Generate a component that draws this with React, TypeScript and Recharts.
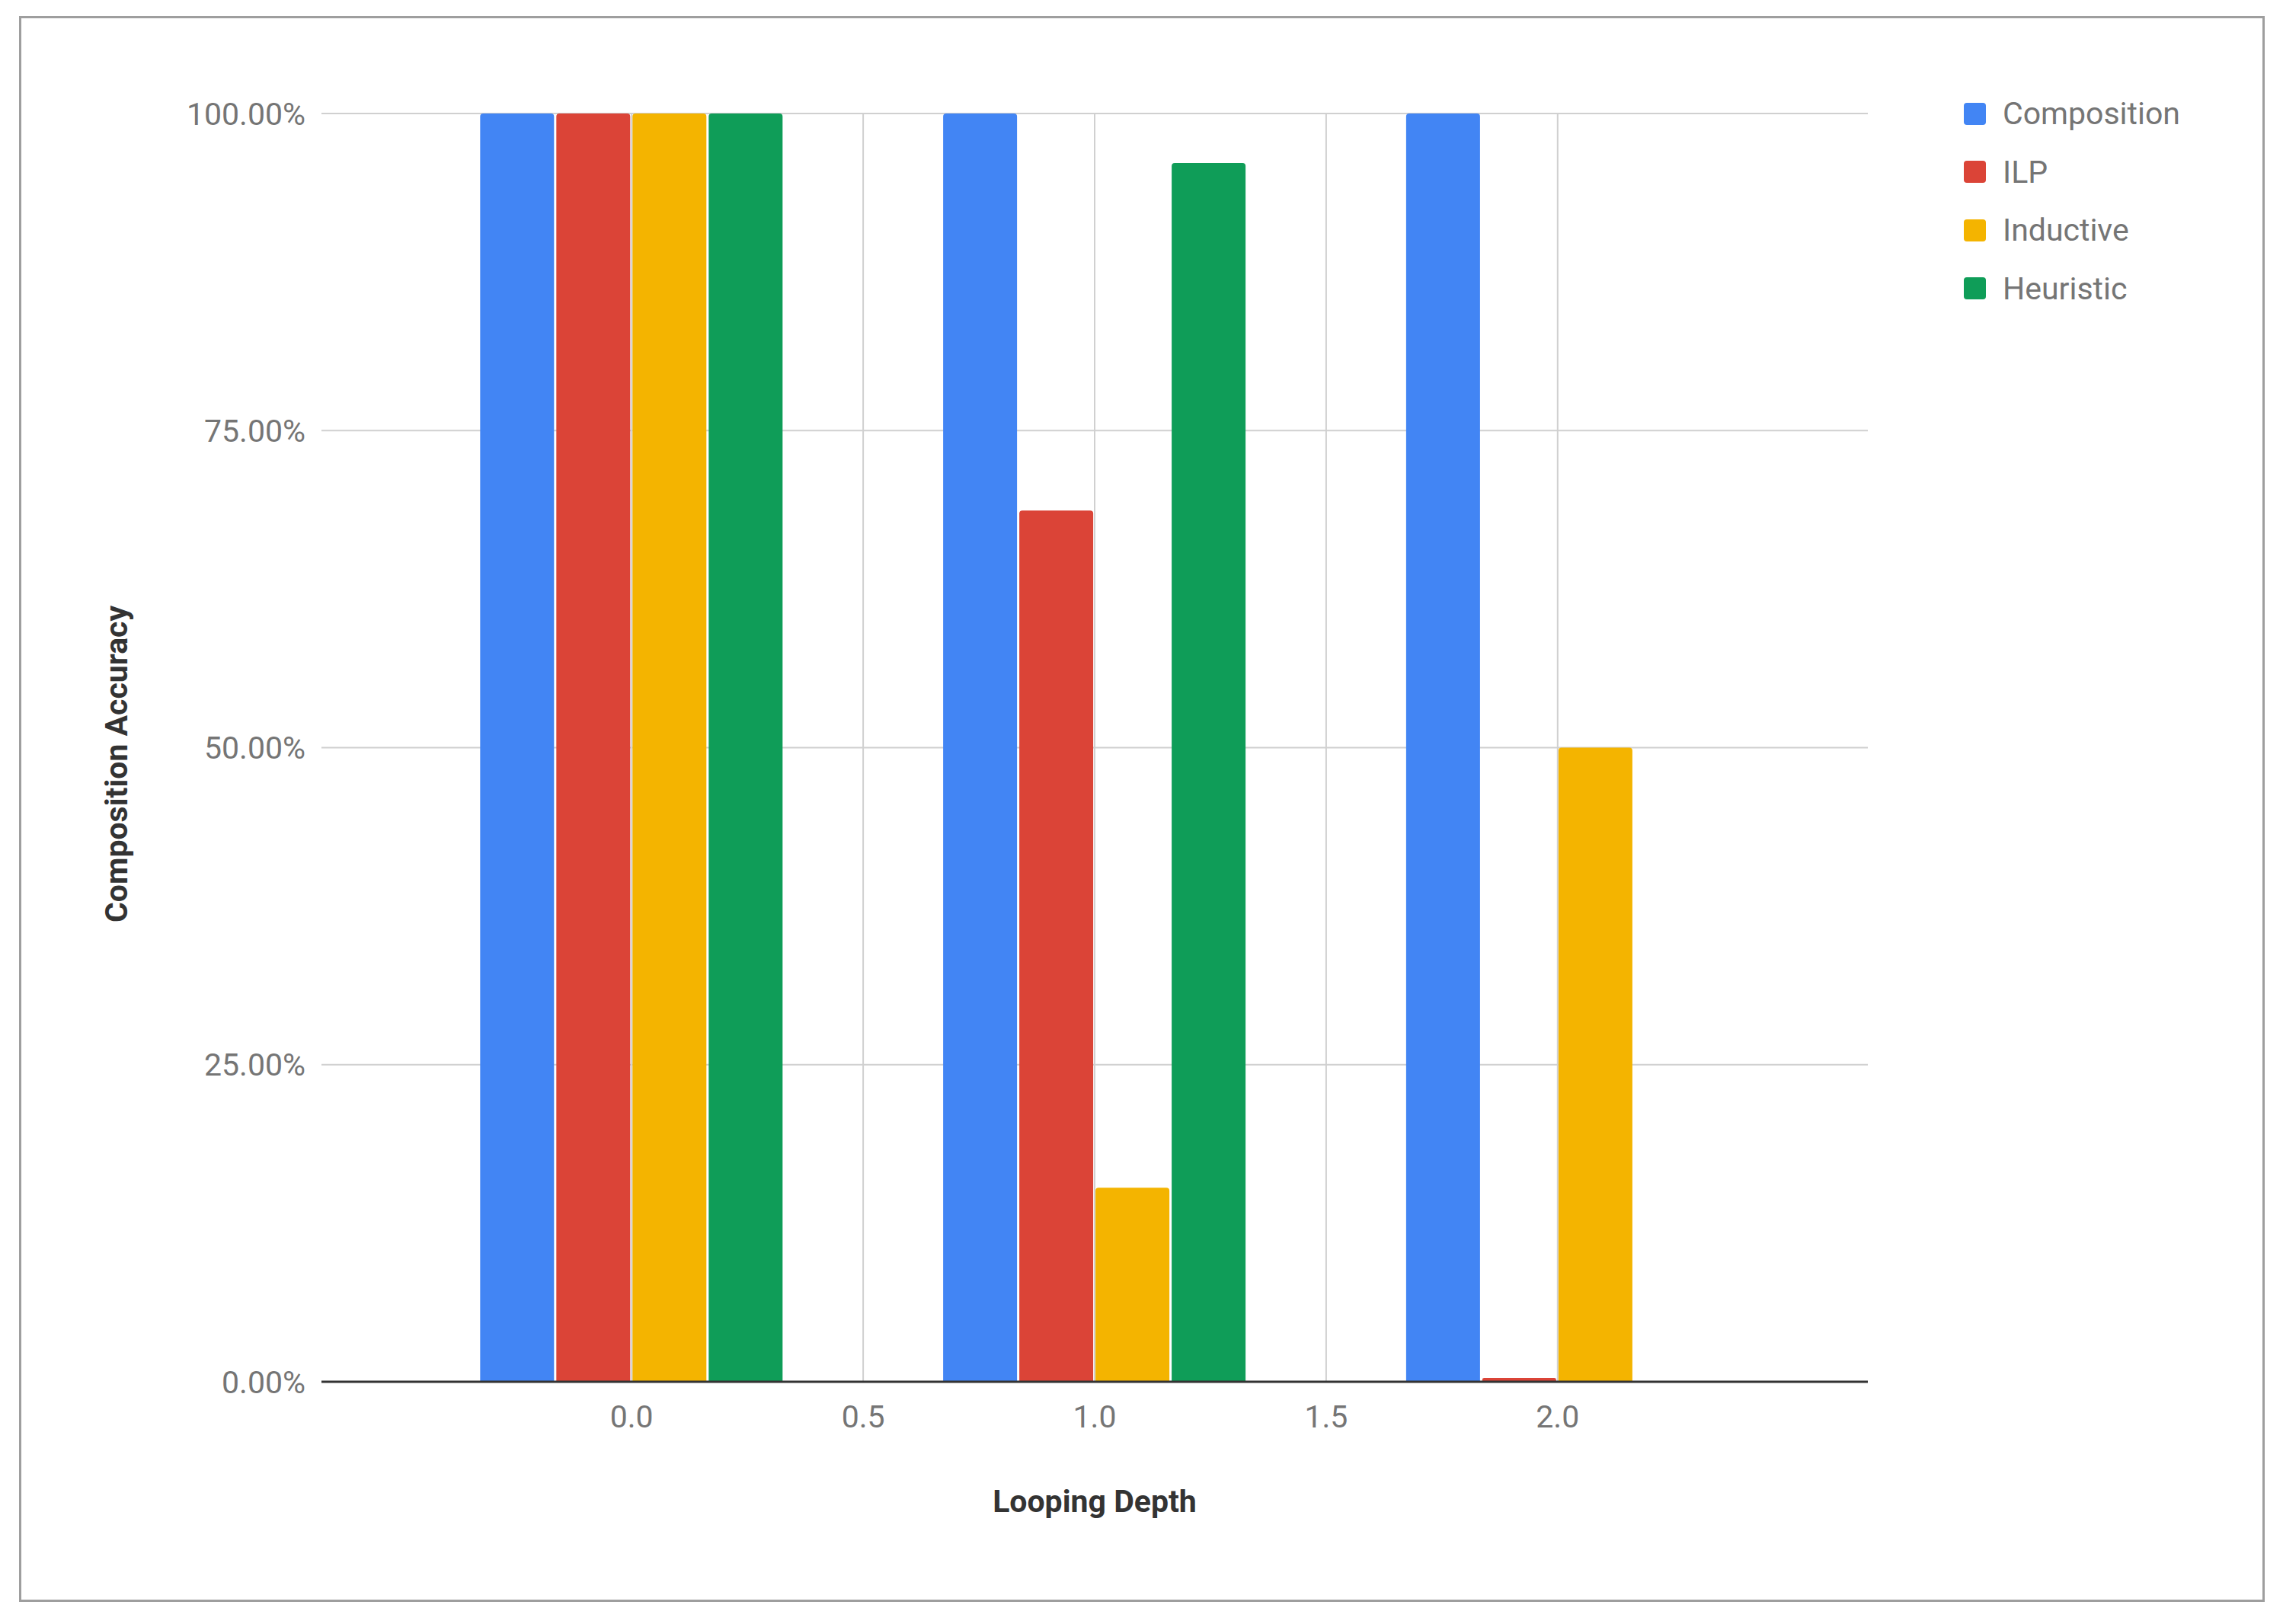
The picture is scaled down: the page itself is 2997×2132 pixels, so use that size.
import React from 'react';
import {
  BarChart,
  Bar,
  XAxis,
  YAxis,
  CartesianGrid,
  Label,
} from 'recharts';

// looping depth on the x axis (numeric axis)
const depths = [0, 1, 2];
const xTicks = [0, 0.5, 1, 1.5, 2];
const xDomain = [-0.67, 2.67];
const yTicks = [0, 25, 50, 75, 100];

// composition accuracy in percent, one value per depth
const composition = [100, 100, 100];
const ilp = [100, 68.7, 0.3];
const inductive = [100, 15.3, 50];
const heuristic = [100, 96.1, 0];

const seriesNames = ['Composition', 'ILP', 'Inductive', 'Heuristic'];
const seriesColors = ['#4285F4', '#DB4437', '#F4B400', '#0F9D58'];

const chartData = depths.map((depth, i) => ({
  depth,
  Composition: composition[i],
  ILP: ilp[i],
  Inductive: inductive[i],
  Heuristic: heuristic[i],
}));

const FONT = 'Roboto, "Noto Sans", sans-serif';

const LegendList = () => (
  <div style={{ position: 'absolute', left: 2578, top: 111, fontFamily: FONT }}>
    {seriesNames.map((name, i) => (
      <div key={name} style={{ display: 'flex', alignItems: 'center', height: 76.5 }}>
        <div
          style={{
            width: 29,
            height: 29,
            borderRadius: 4,
            backgroundColor: seriesColors[i],
            marginRight: 22,
          }}
        />
        <span style={{ fontSize: 41, color: '#757575' }}>{name}</span>
      </div>
    ))}
  </div>
);

const YTitle = () => (
  <text
    x={153}
    y={1003}
    transform="rotate(-90 153 1003)"
    textAnchor="middle"
    dominantBaseline="central"
    fontFamily={FONT}
    fontSize={41}
    fontWeight="bold"
    fill="#333"
  >
    Composition Accuracy
  </text>
);

const XTitle = () => (
  <text
    x={1437}
    y={1971}
    textAnchor="middle"
    dominantBaseline="central"
    fontFamily={FONT}
    fontSize={41}
    fontWeight="bold"
    fill="#333"
  >
    Looping Depth
  </text>
);

// vertical grid only at the x ticks (no lines at the plot edges)
const verticalLines = ({ xAxis, offset }: any) => {
  const s = xAxis && xAxis.scale;
  if (typeof s === 'function') return xTicks.map((t) => s(t));
  if (s && typeof s.map === 'function') return xTicks.map((t) => s.map(t));
  const [d0, d1] = xDomain;
  return xTicks.map((t) => offset.left + ((t - d0) / (d1 - d0)) * offset.width);
};

const App: React.FC = () => {
  return (
    <div style={{ position: 'absolute', left: 0, top: 0, width: 2997, height: 2132, background: '#fff' }}>
      <div
        style={{
          position: 'absolute',
          left: 25,
          top: 21,
          width: 2942,
          height: 2076,
          border: '3px solid #9e9e9e',
        }}
      />
      <div style={{ position: 'absolute', left: 0, top: 0 }}>
        <BarChart
          width={2997}
          height={2132}
          data={chartData}
          margin={{ top: 149, right: 545, bottom: 218, left: 100 }}
          barSize={97}
          barGap={3}
        >
          <CartesianGrid
            stroke="#d0d0d0"
            strokeWidth={2}
            verticalCoordinatesGenerator={verticalLines}
          />
          <XAxis
            dataKey="depth"
            type="number"
            domain={xDomain}
            ticks={xTicks}
            tickFormatter={(v: number) => v.toFixed(1)}
            tick={{ fill: '#757575', fontSize: 41, fontFamily: FONT }}
            tickLine={false}
            tickSize={0}
            tickMargin={31}
            axisLine={{ stroke: '#333', strokeWidth: 3 }}
            height={100}
          >
            <Label content={<XTitle />} />
          </XAxis>
          <YAxis
            type="number"
            domain={[0, 100]}
            ticks={yTicks}
            tickFormatter={(v: number) => `${v.toFixed(2)}%`}
            tick={{ fill: '#757575', fontSize: 41, fontFamily: FONT }}
            tickLine={false}
            tickSize={0}
            tickMargin={21}
            axisLine={false}
            width={322}
          >
            <Label content={<YTitle />} />
          </YAxis>
          {seriesNames.map((name, i) => (
            <Bar
              key={name}
              dataKey={name}
              fill={seriesColors[i]}
              radius={[4, 4, 0, 0]}
              isAnimationActive={false}
            />
          ))}
        </BarChart>
      </div>
      <LegendList />
    </div>
  );
};

export default App;
